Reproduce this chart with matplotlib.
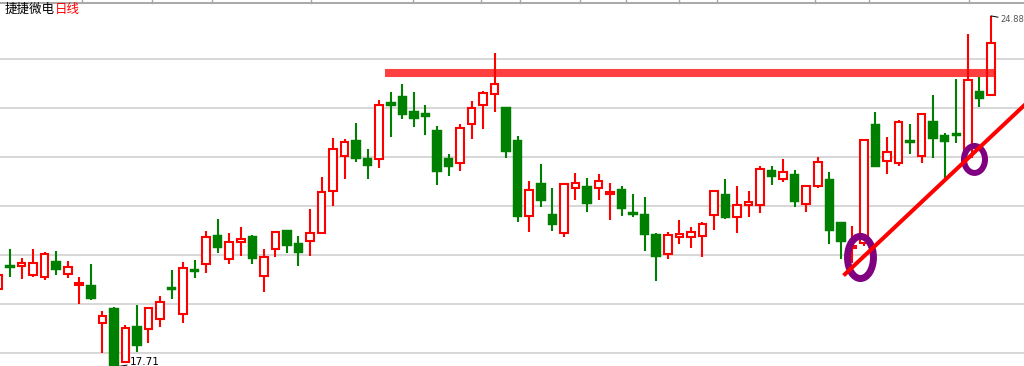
import numpy as np
import matplotlib
matplotlib.use("Agg")
import matplotlib.pyplot as plt
from matplotlib.patches import Rectangle, Ellipse

plt.rcParams['font.family'] = ['Noto Sans CJK SC', 'DejaVu Sans']

# daily OHLC
opens = [19.31, 19.78, 19.78, 19.59, 19.55, 19.88, 19.61, 19.39, 19.39, 18.61,
         18.92, 17.82, 18.55, 18.49, 18.69, 19.33, 18.80, 19.71, 19.82, 20.41,
         19.92, 20.27, 20.39, 19.57, 20.12, 20.51, 20.24, 20.29, 20.45, 21.31,
         22.02, 22.35, 21.98, 21.96, 23.12, 23.24, 22.94, 22.90, 22.55, 21.98,
         21.88, 22.67, 23.06, 23.29, 23.02, 22.35, 20.80, 21.47, 20.84, 20.45,
         21.37, 21.41, 21.37, 21.24, 21.35, 20.86, 20.84, 20.43, 20.02, 20.37,
         20.37, 20.39, 20.82, 21.24, 20.78, 21.02, 21.02, 21.73, 21.55, 21.65,
         21.04, 21.41, 21.55, 20.67, 20.14, 20.24, 22.67, 21.92, 21.88, 22.35,
         22.02, 22.73, 22.45, 22.47, 22.00, 23.35, 23.27]
highs = [19.69, 20.12, 19.94, 20.12, 20.06, 20.08, 19.88, 19.55, 19.82, 18.86,
         18.93, 18.57, 18.98, 18.93, 19.16, 19.69, 19.86, 19.90, 20.49, 20.73,
         20.45, 20.57, 20.41, 20.12, 20.48, 20.52, 20.39, 20.94, 21.59, 22.39,
         22.37, 22.69, 22.16, 23.16, 23.33, 23.49, 23.33, 23.06, 22.63, 22.06,
         22.67, 23.14, 23.35, 24.12, 23.03, 22.43, 21.51, 21.86, 21.37, 21.46,
         21.67, 21.57, 21.65, 21.47, 21.41, 21.24, 21.18, 20.44, 20.47, 20.71,
         20.57, 20.67, 21.32, 21.55, 21.41, 21.31, 21.82, 21.82, 21.96, 21.73,
         21.42, 22.00, 21.69, 20.68, 20.59, 22.36, 22.92, 22.41, 22.76, 22.67,
         22.89, 23.27, 22.49, 23.59, 24.51, 23.63, 24.88]
lows = [19.24, 19.55, 19.51, 19.55, 19.49, 19.59, 19.53, 19.00, 19.08, 18.00,
        17.71, 17.80, 18.02, 18.20, 18.53, 19.10, 18.61, 19.53, 19.63, 20.04,
        19.82, 19.98, 19.82, 19.24, 19.96, 20.04, 19.78, 19.98, 20.43, 21.00,
        21.55, 21.90, 21.55, 21.78, 22.41, 22.78, 22.61, 22.45, 21.43, 21.61,
        21.71, 22.37, 22.57, 22.92, 21.98, 20.67, 20.47, 20.98, 20.49, 20.37,
        21.12, 20.88, 21.12, 20.71, 20.80, 20.78, 20.08, 19.47, 19.92, 20.22,
        20.14, 19.96, 20.51, 20.73, 20.45, 20.78, 20.86, 21.43, 21.49, 20.98,
        20.88, 21.37, 20.22, 19.92, 19.84, 20.18, 21.79, 21.65, 21.82, 22.06,
        21.88, 21.98, 21.57, 22.29, 21.94, 23.02, 23.24]
closes = [19.59, 19.73, 19.84, 19.84, 20.02, 19.69, 19.76, 19.43, 19.10, 18.76,
          17.73, 18.51, 18.14, 18.92, 19.04, 19.29, 19.73, 19.65, 20.37, 20.14,
          20.27, 20.33, 19.92, 19.96, 20.47, 20.18, 20.04, 20.45, 21.29, 22.16,
          22.31, 21.96, 21.82, 23.06, 23.04, 22.86, 22.78, 22.82, 21.69, 21.80,
          22.59, 23.00, 23.31, 23.49, 22.10, 20.78, 21.33, 21.10, 20.61, 21.45,
          21.47, 21.04, 21.51, 21.29, 20.94, 20.82, 20.41, 19.96, 20.41, 20.43,
          20.47, 20.63, 21.31, 20.76, 21.02, 21.08, 21.76, 21.59, 21.69, 21.08,
          21.41, 21.90, 20.49, 20.27, 20.18, 22.35, 21.80, 22.10, 22.71, 22.29,
          22.88, 22.37, 22.31, 22.43, 23.57, 23.18, 24.33]

title_name = "捷捷微电"
title_period = "日线"
grid_prices = [18, 19, 20, 21, 22, 23, 24]
# period separators on the top border (candle positions)
period_marks = [7.24, 13.3, 18.5, 27.1, 35.9, 41.8, 45.2, 50.4, 54.4, 59.0,
                62.3, 70.8, 75.4, 84.1]

# hand-drawn annotations
resist_price = 23.71
resist_span = (33.5, 86.36)
trend_pts = ([73.36, 89.5], [19.61, 23.19])
circles = [(74.70, 19.95, 2.25, 0.86, 5.0), (84.58, 21.95, 1.82, 0.55, 4.3)]

UP = '#ff0000'
DOWN = '#008000'

fig = plt.figure(figsize=(10.24, 3.66), dpi=100)
ax = fig.add_axes([0, 0, 1, 1])
ax.set_xlim(0.133, 88.87)
ax.set_ylim(17.735, 25.204)
ax.axis('off')

for g in grid_prices:
    ax.axhline(g, color='#d4d4d4', lw=1.3, zorder=0)

# top border with period ticks
ax.plot([0, 1], [1 - 2.5 / 366] * 2, transform=ax.transAxes, color='#a8a8a8', lw=1.4, zorder=1)
for m in period_marks:
    ax.plot([m, m], [25.204 - 2.5 / 49, 25.204], color='#a8a8a8', lw=1.0, zorder=1)

for i in range(len(opens)):
    o, h, l, c = opens[i], highs[i], lows[i], closes[i]
    if c >= o:
        ax.plot([i, i], [l, h], color=UP, lw=1.5, zorder=2, solid_capstyle='butt')
        bh = max(c - o, 0.03)
        ax.add_patch(Rectangle((i - 0.33, o), 0.66, bh, facecolor='white',
                               edgecolor=UP, lw=1.5, zorder=3))
    else:
        ax.plot([i, i], [l, h], color=DOWN, lw=1.5, zorder=2, solid_capstyle='butt')
        bh = max(o - c, 0.06)
        ax.add_patch(Rectangle((i - 0.41, c), 0.82, bh, facecolor=DOWN,
                               edgecolor=DOWN, lw=0.3, zorder=3))

# resistance bar
ax.plot(resist_span, [resist_price] * 2, color='#ff0000', alpha=0.75, lw=5.8,
        solid_capstyle='butt', zorder=4)

for cx, cy, w, hgt, lw in circles:
    ax.add_patch(Ellipse((cx, cy), w, hgt, fill=False, edgecolor='#800080', lw=lw, zorder=5))

ax.plot(trend_pts[0], trend_pts[1], color='#ff0000', lw=2.9, zorder=6)

# low / high labels
lo_i = int(np.argmin(lows))
ax.annotate(f"{lows[lo_i]:.2f}", xy=(lo_i, lows[lo_i]), xytext=(16, 5),
            textcoords='offset pixels', fontsize=7.5, color='black', va='center',
            family='DejaVu Sans', annotation_clip=False,
            arrowprops=dict(arrowstyle='-', color='black', lw=0.7, shrinkA=0, shrinkB=0))
hi_i = int(np.argmax(highs))
ax.annotate(f"{highs[hi_i]:.2f}", xy=(hi_i, highs[hi_i]), xytext=(10, -4),
            textcoords='offset pixels', fontsize=6, color='#555555', va='center',
            family='DejaVu Sans', annotation_clip=False,
            arrowprops=dict(arrowstyle='-', color='black', lw=0.7, shrinkA=0, shrinkB=0))

ax.text(5 / 1024, 1 - 9 / 366, title_name, transform=ax.transAxes, fontsize=9,
        color='black', va='center', ha='left')
ax.text(55 / 1024, 1 - 9 / 366, title_period, transform=ax.transAxes, fontsize=9,
        color='#ff0000', va='center', ha='left')

fig.savefig('out.png', dpi=100)
